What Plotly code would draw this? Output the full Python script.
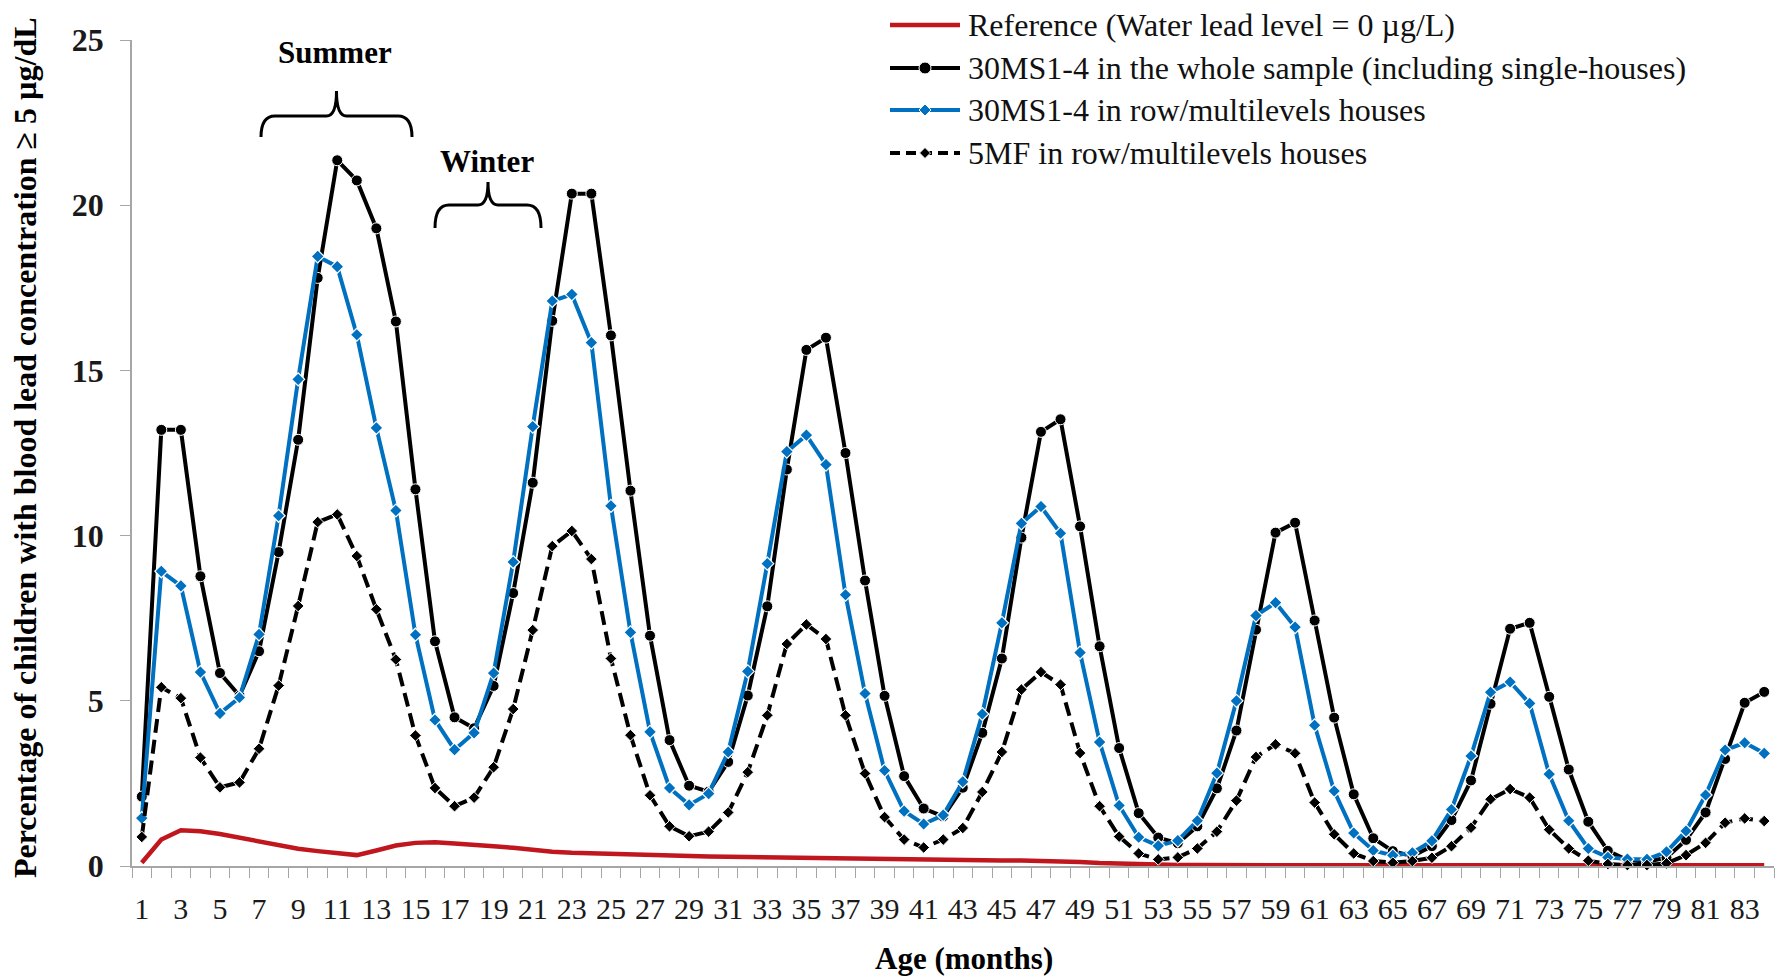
import plotly.graph_objects as go

# ---------------- data ----------------
months = list(range(1, 85))
tick_months = list(range(1, 84, 2))

reference = [0.10, 0.80, 1.08, 1.05, 0.97, 0.85, 0.74, 0.62, 0.52, 0.45,
             0.40, 0.33, 0.47, 0.62, 0.70, 0.72, 0.68, 0.65, 0.60, 0.55,
             0.48, 0.43, 0.40, 0.38, 0.36, 0.35, 0.34, 0.32, 0.30, 0.29,
             0.28, 0.27, 0.26, 0.25, 0.24, 0.24, 0.23, 0.22, 0.21, 0.20,
             0.20, 0.19, 0.19, 0.18, 0.17, 0.17, 0.16, 0.15, 0.12, 0.09,
             0.07, 0.05, 0.04, 0.03, 0.03, 0.02, 0.02, 0.02, 0.02, 0.02,
             0.02, 0.02, 0.02, 0.02, 0.02, 0.02, 0.02, 0.02, 0.02, 0.02,
             0.02, 0.02, 0.02, 0.02, 0.02, 0.02, 0.02, 0.02, 0.02, 0.02,
             0.02, 0.02, 0.02, 0.02]

whole_30ms = [2.10, 13.20, 13.20, 8.77, 5.84, 5.15, 6.50, 9.50, 12.90, 17.80,
              21.36, 20.75, 19.30, 16.48, 11.40, 6.80, 4.50, 4.17, 5.45, 8.26,
              11.60, 16.50, 20.35, 20.35, 16.06, 11.36, 6.97, 3.81, 2.43, 2.25,
              3.15, 5.16, 7.86, 12.00, 15.62, 15.99, 12.50, 8.64, 5.15, 2.72,
              1.74, 1.50, 2.37, 4.03, 6.28, 9.94, 13.14, 13.52, 10.28, 6.65,
              3.57, 1.60, 0.86, 0.69, 1.20, 2.35, 4.10, 7.15, 10.09, 10.39,
              7.43, 4.49, 2.17, 0.84, 0.45, 0.30, 0.60, 1.39, 2.59, 4.91,
              7.18, 7.36, 5.12, 2.92, 1.34, 0.46, 0.18, 0.13, 0.25, 0.79,
              1.62, 3.24, 4.94, 5.27]

row_30ms = [1.45, 8.92, 8.48, 5.87, 4.62, 5.10, 7.01, 10.60, 14.73, 18.45,
            18.14, 16.08, 13.26, 10.76, 7.00, 4.42, 3.52, 4.03, 5.84, 9.20,
            13.30, 17.10, 17.30, 15.84, 10.90, 7.07, 4.06, 2.36, 1.85, 2.19,
            3.45, 5.89, 9.15, 12.54, 13.04, 12.15, 8.21, 5.22, 2.89, 1.66,
            1.27, 1.54, 2.55, 4.60, 7.36, 10.37, 10.88, 10.07, 6.46, 3.75,
            1.83, 0.87, 0.61, 0.77, 1.37, 2.81, 5.00, 7.58, 7.97, 7.23,
            4.26, 2.27, 1.00, 0.47, 0.32, 0.40, 0.76, 1.71, 3.33, 5.26,
            5.57, 4.92, 2.78, 1.37, 0.53, 0.26, 0.21, 0.20, 0.43, 1.06,
            2.15, 3.51, 3.73, 3.41]

row_5mf = [0.88, 5.41, 5.08, 3.28, 2.38, 2.53, 3.55, 5.46, 7.87, 10.41,
           10.64, 9.38, 7.77, 6.25, 3.95, 2.36, 1.81, 2.07, 2.99, 4.75,
           7.14, 9.68, 10.14, 9.29, 6.28, 3.96, 2.14, 1.20, 0.90, 1.04,
           1.62, 2.84, 4.56, 6.72, 7.31, 6.87, 4.56, 2.80, 1.48, 0.80,
           0.56, 0.80, 1.15, 2.24, 3.45, 5.34, 5.87, 5.49, 3.42, 1.81,
           0.89, 0.38, 0.20, 0.26, 0.53, 1.04, 1.98, 3.30, 3.68, 3.41,
           1.92, 0.96, 0.38, 0.15, 0.10, 0.15, 0.25, 0.60, 1.16, 2.02,
           2.33, 2.07, 1.10, 0.53, 0.16, 0.06, 0.03, 0.03, 0.08, 0.33,
           0.70, 1.31, 1.44, 1.36]

series_names = ["Reference (Water lead level = 0 \u00b5g/L)",
                "30MS1-4 in the whole sample (including single-houses)",
                "30MS1-4 in row/multilevels houses",
                "5MF in row/multilevels houses"]

y_ticks = [0, 5, 10, 15, 20, 25]

# ---------------- style ----------------
FONT = "Liberation Serif"
RED = "#C0161E"
BLUE = "#0070C0"
BLACK = "#000000"
GREY = "#A6A6A6"
DASH = "14px,7px"

W, H = 1782, 976
L, R, T, B = 132, 1774, 40, 866


def px(x):
    return (x - L) / (R - L)


def py(y):
    return (B - y) / (B - T)


fig = go.Figure()

fig.add_trace(go.Scatter(x=months, y=reference, mode="lines", name=series_names[0],
                         line=dict(color=RED, width=4.5), cliponaxis=False,
                         showlegend=False))
fig.add_trace(go.Scatter(x=months, y=whole_30ms, mode="lines+markers", name=series_names[1],
                         line=dict(color=BLACK, width=4),
                         marker=dict(symbol="circle", size=11, color=BLACK,
                                     line=dict(color="white", width=1)),
                         cliponaxis=False, showlegend=False))
fig.add_trace(go.Scatter(x=months, y=row_30ms, mode="lines+markers", name=series_names[2],
                         line=dict(color=BLUE, width=4),
                         marker=dict(symbol="diamond", size=10, color=BLUE,
                                     line=dict(color="white", width=1.2)),
                         cliponaxis=False, showlegend=False))
fig.add_trace(go.Scatter(x=months, y=row_5mf, mode="lines+markers", name=series_names[3],
                         line=dict(color=BLACK, width=4, dash=DASH),
                         marker=dict(symbol="diamond", size=9, color=BLACK,
                                     line=dict(color="white", width=1)),
                         cliponaxis=False, showlegend=False))

shapes = []
annotations = []

# ---------------- custom legend ----------------
leg_rows = [25, 68, 110, 153]
leg_x0, leg_x1, leg_text_x = 890, 960, 966
leg_styles = [
    dict(color=RED, dash="solid", marker=None),
    dict(color=BLACK, dash="solid", marker="circle"),
    dict(color=BLUE, dash="solid", marker="diamond"),
    dict(color=BLACK, dash="10px,6px", marker="diamond"),
]
for yrow, st, name in zip(leg_rows, leg_styles, series_names):
    shapes.append(dict(type="line", xref="paper", yref="paper",
                       x0=px(leg_x0), x1=px(leg_x1), y0=py(yrow), y1=py(yrow),
                       line=dict(color=st["color"], width=4.5 if st["marker"] is None else 4,
                                 dash=st["dash"])))
    cx = (leg_x0 + leg_x1) / 2
    if st["marker"] == "circle":
        r = 6
        shapes.append(dict(type="circle", xref="paper", yref="paper",
                           x0=px(cx - r), x1=px(cx + r), y0=py(yrow + r), y1=py(yrow - r),
                           fillcolor=st["color"], line=dict(color="white", width=1)))
    elif st["marker"] == "diamond":
        r = 6 if st["color"] == BLUE else 5.5
        path = "M {:.5f},{:.5f} L {:.5f},{:.5f} L {:.5f},{:.5f} L {:.5f},{:.5f} Z".format(
            px(cx), py(yrow - r), px(cx + r), py(yrow), px(cx), py(yrow + r), px(cx - r), py(yrow))
        shapes.append(dict(type="path", xref="paper", yref="paper", path=path,
                           fillcolor=st["color"], line=dict(color="white", width=1)))
    annotations.append(dict(text=name, xref="paper", yref="paper",
                            x=px(leg_text_x), y=py(yrow), xanchor="left", yanchor="middle",
                            showarrow=False, font=dict(family=FONT, size=32, color="#111111")))


# ---------------- season braces ----------------
def brace(x_left, x_right, y_line, y_end, y_tip):
    xm = (x_left + x_right) / 2
    pts = [
        ("M", [(x_left, y_end)]),
        ("Q", [(x_left, y_line), (x_left + 14, y_line)]),
        ("L", [(xm - 10, y_line)]),
        ("Q", [(xm, y_line), (xm, y_tip)]),
        ("Q", [(xm, y_line), (xm + 10, y_line)]),
        ("L", [(x_right - 14, y_line)]),
        ("Q", [(x_right, y_line), (x_right, y_end)]),
    ]
    s = []
    for cmd, coords in pts:
        s.append(cmd + " " + " ".join("{:.5f},{:.5f}".format(px(a), py(b)) for a, b in coords))
    return " ".join(s)


shapes.append(dict(type="path", xref="paper", yref="paper",
                   path=brace(261, 412, 116, 137, 91), line=dict(color=BLACK, width=3)))
shapes.append(dict(type="path", xref="paper", yref="paper",
                   path=brace(435, 541, 205, 228, 182), line=dict(color=BLACK, width=3)))
annotations.append(dict(text="<b>Summer</b>", xref="paper", yref="paper",
                        x=px(335), y=py(52), xanchor="center", yanchor="middle",
                        showarrow=False, font=dict(family=FONT, size=31, color=BLACK)))
annotations.append(dict(text="<b>Winter</b>", xref="paper", yref="paper",
                        x=px(487), y=py(161), xanchor="center", yanchor="middle",
                        showarrow=False, font=dict(family=FONT, size=31, color=BLACK)))

# ---------------- axis titles ----------------
annotations.append(dict(text="<b>Percentage of children with blood lead concentration \u2265 5 \u00b5g/dL</b>",
                        xref="paper", yref="paper", x=px(25), y=py(448),
                        xanchor="center", yanchor="middle", textangle=-90, showarrow=False,
                        font=dict(family=FONT, size=32, color=BLACK)))
annotations.append(dict(text="<b>Age (months)</b>", xref="paper", yref="paper",
                        x=px(964), y=py(958), xanchor="center", yanchor="middle",
                        showarrow=False, font=dict(family=FONT, size=31, color=BLACK)))

fig.update_layout(
    width=W, height=H,
    margin=dict(l=L, r=W - R, t=T, b=H - B, pad=0),
    paper_bgcolor="white", plot_bgcolor="white",
    showlegend=False,
    shapes=shapes, annotations=annotations,
    font=dict(family=FONT, color=BLACK),
)

fig.update_xaxes(
    range=[0.5, 84.5], tickmode="array", tickvals=tick_months,
    ticktext=[str(m) for m in tick_months],
    ticks="", showgrid=False, zeroline=False,
    showline=True, linecolor=GREY, linewidth=1.5,
    tickfont=dict(family=FONT, size=30, color="#1a1a1a"),
    ticklabelstandoff=15,
    minor=dict(tickmode="linear", tick0=0.5, dtick=1, ticks="outside",
               ticklen=10, tickcolor=GREY, tickwidth=1.2, showgrid=False),
)
fig.update_yaxes(
    range=[0, 25], tickmode="array", tickvals=y_ticks,
    ticks="outside", ticklen=10, tickcolor=GREY, tickwidth=1.2,
    showgrid=False, zeroline=False,
    showline=True, linecolor=GREY, linewidth=1.5,
    tickfont=dict(family=FONT, size=32, color="#1a1a1a", weight="bold"),
    ticklabelstandoff=10,
)

fig.write_html("out.html")
